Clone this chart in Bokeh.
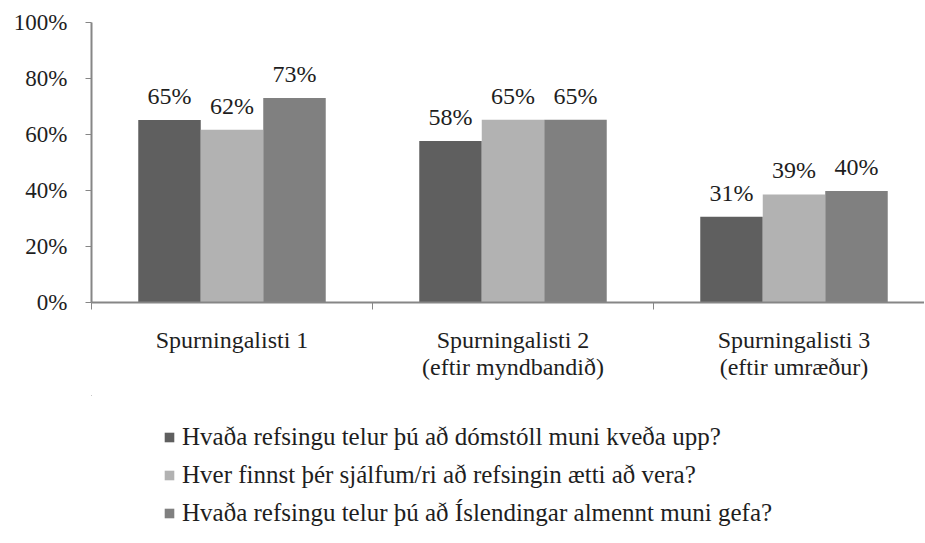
from bokeh.plotting import figure
from bokeh.layouts import column
from bokeh.models import (ColumnDataSource, Range1d, FixedTicker, Legend, LegendItem,
                          NumeralTickFormatter)
from bokeh.transform import dodge
from bokeh.core.properties import value
from bokeh.embed import file_html
from bokeh.resources import INLINE

categories = ["Spurningalisti 1", "Spurningalisti 2\n(eftir myndbandið)", "Spurningalisti 3\n(eftir umræður)"]
series_names = [
    "Hvaða refsingu telur þú að dómstóll muni kveða upp?",
    "Hver finnst þér sjálfum/ri að refsingin ætti að vera?",
    "Hvaða refsingu telur þú að Íslendingar almennt muni gefa?",
]
dom = [0.652, 0.577, 0.306]
sjalf = [0.617, 0.653, 0.386]
islend = [0.730, 0.653, 0.398]
y_ticks = [0, 0.2, 0.4, 0.6, 0.8, 1.0]

colors = ["#5f5f5f", "#b2b2b2", "#808080"]
FONT = "Liberation Serif"
TXT = "#1e1e1e"
W, H1, H2 = 924, 395, 145
LEFT, TOP, BOTTOM_Y = 91, 22, 302
GROUP_PX = 281

centers = [i + 0.5 for i in range(len(categories))]
src = ColumnDataSource(dict(
    xc=centers, dom=dom, sjalf=sjalf, islend=islend,
    dom_l=[f"{round(v*100)}%" for v in dom],
    sjalf_l=[f"{round(v*100)}%" for v in sjalf],
    islend_l=[f"{round(v*100)}%" for v in islend],
))

p = figure(width=W, height=H1, output_backend="svg", toolbar_location=None,
           x_range=Range1d(0, (W - LEFT) / GROUP_PX), y_range=Range1d(0, 1.0),
           min_border_left=LEFT, min_border_right=0, min_border_top=TOP,
           min_border_bottom=H1 - BOTTOM_Y)
p.outline_line_color = None
p.grid.grid_line_color = None

bw = 0.2224
cols = ["dom", "sjalf", "islend"]
for j, c in enumerate(cols):
    p.vbar(x=dodge("xc", (j - 1) * bw), top=c, width=bw, bottom=0, source=src,
           fill_color=colors[j], line_color=None)
    p.text(x=dodge("xc", (j - 1) * bw), y=c, text=c + "_l", source=src,
           text_align="center", text_baseline="bottom", y_offset=-11,
           text_font=value(FONT), text_font_size="24px", text_color=TXT)

# x axis
xa = p.xaxis[0]
xa.ticker = FixedTicker(ticks=centers, minor_ticks=[0, 1, 2, 3])
xa.major_label_overrides = {c: lab for c, lab in zip(centers, categories)}
xa.major_tick_out = 0
xa.major_tick_in = 0
xa.minor_tick_out = 7
xa.minor_tick_in = 0
xa.minor_tick_line_color = "#868686"
xa.axis_line_color = "#868686"
xa.axis_line_width = 2
xa.major_label_standoff = 17
xa.major_label_text_font = FONT
xa.major_label_text_font_size = "24px"
xa.major_label_text_line_height = 1.05
xa.major_label_text_color = TXT

ya = p.yaxis[0]
ya.ticker = FixedTicker(ticks=y_ticks)
ya.minor_tick_line_color = None
ya.major_tick_out = 6
ya.major_tick_in = 0
ya.major_tick_line_color = "#868686"
ya.axis_line_color = "#868686"
ya.axis_line_width = 2
ya.formatter = NumeralTickFormatter(format="0%")
ya.major_label_standoff = 18
ya.major_label_text_font = FONT
ya.major_label_text_font_size = "23px"
ya.major_label_text_color = TXT

# legend in its own strip below the chart (its bars lie outside the strip's view)
p2 = figure(width=W, height=H2, output_backend="svg", toolbar_location=None,
            x_range=Range1d(10, 11), y_range=Range1d(-2, -1),
            x_axis_type=None, y_axis_type=None, min_border=0)
p2.outline_line_color = None
items = []
for j, c in enumerate(cols):
    r = p2.vbar(x="xc", top=c, width=0.1, bottom=0, source=src,
                fill_color=colors[j], line_color=None)
    items.append(LegendItem(label=series_names[j], renderers=[r]))
legend = Legend(items=items, location=(72, 13), orientation="vertical",
                label_text_font=FONT, label_text_font_size="25px", label_text_color=TXT,
                glyph_width=12, glyph_height=12, spacing=10, padding=0, margin=0,
                border_line_color=None, background_fill_alpha=0, label_standoff=7)
p2.add_layout(legend, "center")

open("out.html", "w").write(file_html(column(p, p2, spacing=0), INLINE))
